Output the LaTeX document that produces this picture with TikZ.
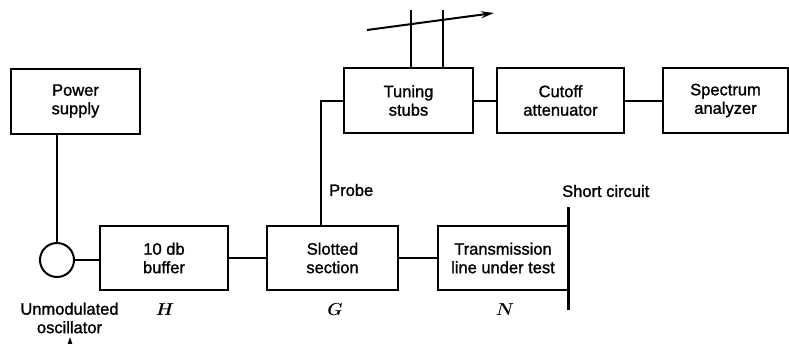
\documentclass[tikz,border=0pt]{standalone}
\usepackage{fontspec}
\setmainfont{Liberation Sans}[BoldFont=Liberation Sans,BoldFeatures={FakeBold=1.3}]
\usetikzlibrary{arrows.meta}
\begin{document}
\begin{tikzpicture}[x=1pt,y=-1pt,
  blk/.style={draw,line width=2pt,minimum height=65pt,align=center,inner sep=0pt,font=\bfseries\fontsize{16.5}{18.5}\selectfont},
  wire/.style={line width=2pt},
  lbl/.style={inner sep=0pt,align=center,font=\bfseries\fontsize{16.5}{18.5}\selectfont},
  mlbl/.style={inner sep=0pt,font=\boldmath\fontsize{18}{18}\selectfont}]
\useasboundingbox (0,0) rectangle (789,343);
\node[blk,minimum width=129pt] (ps) at (75.5,101) {Power\\supply};
\node[draw,circle,line width=2pt,minimum size=34pt,inner sep=0pt] (osc) at (57,260) {};
\node[blk,minimum width=128pt,minimum height=64pt] (buf) at (164,258) {10 db\\buffer};
\node[blk,minimum width=131pt,minimum height=64pt] (slot) at (332.5,258) {Slotted\\section};
\node[blk,minimum width=130pt,minimum height=64pt] (tl) at (503,258) {Transmission\\line under test};
\node[blk,minimum width=129pt] (ts) at (408.5,100.5) {Tuning\\stubs};
\node[blk,minimum width=127pt] (ca) at (560.5,100.5) {Cutoff\\attenuator};
\node[blk,minimum width=125pt] (sa) at (725.5,100.5) {Spectrum\\analyzer};
% connectors
\draw[wire] (osc.north) -- (osc.north |- ps.south);
\draw[wire] (osc.east) -- (osc.east -| buf.west);
\draw[wire] (buf) -- (slot);
\draw[wire] (slot) -- (tl);
\coordinate (pb) at (321,226);
\coordinate (pt) at (321,100.5);
\draw[wire] (pb) -- (pt) -- (ts.west);
\draw[wire] (ts) -- (ca);
\draw[wire] (ca) -- (sa);
% short circuit
\coordinate (sc1) at (568,207);
\coordinate (sc2) at (568,310);
\draw[line width=3pt] (sc1) -- (sc2);
% stubs
\coordinate (s1) at (411,10);
\coordinate (s2) at (443,10);
\draw[wire] (s1) -- (s1 |- ts.north);
\draw[wire] (s2) -- (s2 |- ts.north);
\coordinate (a1) at (367,30);
\coordinate (a2) at (494,13);
\draw[wire,-{Stealth[length=13pt,width=7pt]}] (a1) -- (a2);
% partial arrow at the bottom
\coordinate (b1) at (70,350);
\coordinate (b2) at (70,337);
\draw[wire,-{Stealth[length=9pt,width=6pt]}] (b1) -- (b2);
% labels
\node[lbl,anchor=west] (probe) at (329,190) {Probe};
\node[lbl,anchor=west] (short) at (562,191) {Short circuit};
\node[lbl] (unm) at (69.5,318) {Unmodulated\\oscillator};
\node[mlbl] (H) at (165,310) {$H$};
\node[mlbl] (G) at (335,310) {$G$};
\node[mlbl] (N) at (505,310) {$N$};
\end{tikzpicture}
\end{document}
